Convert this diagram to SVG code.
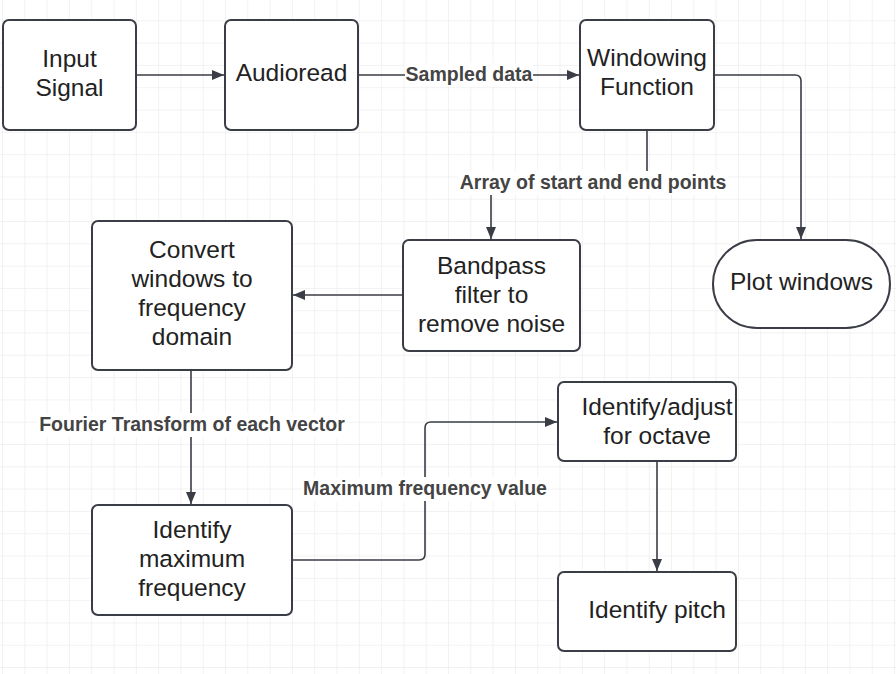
<svg xmlns="http://www.w3.org/2000/svg" width="896" height="674" viewBox="0 0 896 674">
<defs>
<pattern id="grid" x="3" y="-1" width="22.3" height="22.3" patternUnits="userSpaceOnUse">
<path d="M22.3 0V22.3M0 22.3H22.3" fill="none" stroke="#e6e6e6" stroke-width="1"/>
</pattern>
<marker id="ah" viewBox="0 0 12 10" refX="12" refY="5" markerWidth="12" markerHeight="10" markerUnits="userSpaceOnUse" orient="auto">
<path d="M0 0L12 5L0 10z" fill="#3a3d45"/>
</marker>
<style>
.n{fill:#fff;stroke:#3a3d45;stroke-width:2}
.t{font-family:"Liberation Sans",Arial,sans-serif;font-size:24.5px;fill:#222;text-anchor:middle}
.c{fill:none;stroke:#3a3d45;stroke-width:1.6;marker-end:url(#ah)}
.l{font-family:"Liberation Sans",Arial,sans-serif;font-size:19.5px;font-weight:bold;fill:#444;text-anchor:middle}
.bg{fill:#fff}
</style>
</defs>
<rect width="896" height="674" fill="#fff"/>
<rect width="896" height="674" fill="url(#grid)"/>
<g id="connectors">
<path class="c" d="M136 75H224"/>
<path class="c" d="M358 75H579"/>
<path class="c" d="M647 130V183H491V239"/>
<path class="c" d="M714 75H795Q801 75 801 81V239"/>
<path class="c" d="M403 295H293"/>
<path class="c" d="M191 370V504"/>
<path class="c" d="M292 560H419Q425 560 425 554V428Q425 422 431 422H557"/>
<path class="c" d="M657 461V571"/>
<rect class="bg" x="405" y="63" width="128" height="24"/>
<text class="l" x="469" y="81">Sampled data</text>
<rect class="bg" x="458" y="171" width="270" height="24"/>
<text class="l" x="593" y="189">Array of start and end points</text>
<rect class="bg" x="37" y="413" width="310" height="24"/>
<text class="l" x="192" y="431">Fourier Transform of each vector</text>
<rect class="bg" x="302" y="477" width="246" height="24"/>
<text class="l" x="425" y="495">Maximum frequency value</text>
</g>
<g id="input"><rect class="n" x="3" y="20" width="133" height="110" rx="6"/><text class="t" x="69.5" y="67">Input</text><text class="t" x="69.5" y="96">Signal</text></g>
<g id="audioread"><rect class="n" x="225" y="20" width="133" height="110" rx="6"/><text class="t" x="291.5" y="81">Audioread</text></g>
<g id="windowing"><rect class="n" x="580" y="20" width="134" height="110" rx="6"/><text class="t" x="647" y="66">Windowing</text><text class="t" x="647" y="95">Function</text></g>
<g id="plot"><rect class="n" x="713" y="240" width="177" height="88" rx="44"/><text class="t" x="801.5" y="290">Plot windows</text></g>
<g id="bandpass"><rect class="n" x="403" y="240" width="177" height="111" rx="6"/><text class="t" x="491.5" y="274">Bandpass</text><text class="t" x="491.5" y="303">filter to</text><text class="t" x="491.5" y="332">remove noise</text></g>
<g id="convert"><rect class="n" x="92" y="221" width="200" height="149" rx="6"/><text class="t" x="192" y="258">Convert</text><text class="t" x="192" y="287">windows to</text><text class="t" x="192" y="316">frequency</text><text class="t" x="192" y="345">domain</text></g>
<g id="maxfreq"><rect class="n" x="92" y="505" width="200" height="110" rx="6"/><text class="t" x="192" y="538">Identify</text><text class="t" x="192" y="567">maximum</text><text class="t" x="192" y="596">frequency</text></g>
<g id="octave"><rect class="n" x="558" y="382" width="178" height="79" rx="6"/><text class="t" x="657" y="415">Identify/adjust</text><text class="t" x="657" y="444">for octave</text></g>
<g id="pitch"><rect class="n" x="558" y="572" width="178" height="79" rx="6"/><text class="t" x="657" y="618">Identify pitch</text></g>
</svg>
